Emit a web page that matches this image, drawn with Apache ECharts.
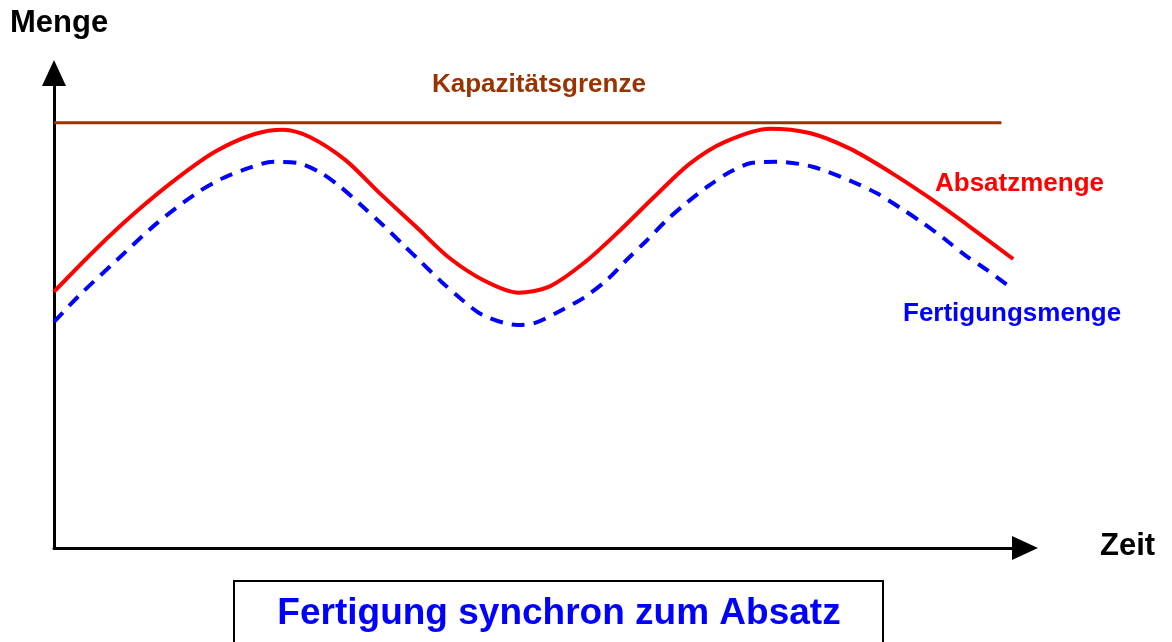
<!DOCTYPE html>
<html>
<head>
<meta charset="utf-8">
<script src="https://cdn.jsdelivr.net/npm/echarts@6/dist/echarts.min.js"></script>
<style>
html,body{margin:0;padding:0;background:#fff;}
#chart{width:1172px;height:642px;}
</style>
</head>
<body>
<div id="chart"></div>
<script>
// Time (x) and quantity (y) values, abstract units
const absatzX = [0, 4.2, 8.2, 12.3, 16.4, 20.4, 23.3, 26.0, 29.6, 33.1, 36.7, 40.2, 43.8, 47.2, 50.4, 54.0, 57.5, 61.1, 64.6, 68.2, 72.8, 76.8, 80.9, 85.0, 89.0, 93.1, 97.5];
const absatzY = [52.5, 61.1, 68.6, 75.4, 81.2, 84.8, 85.7, 84.2, 79.5, 72.7, 66.0, 59.4, 54.7, 52.3, 53.6, 58.6, 65.0, 72.1, 78.7, 83.2, 85.9, 85.0, 81.8, 77.0, 71.7, 65.8, 59.2];
const fertigungX = [0, 2.6, 6.4, 10.5, 14.5, 17.2, 19.9, 22.3, 24.7, 27.0, 29.1, 31.4, 33.4, 35.5, 37.4, 39.4, 41.5, 43.6, 47.1, 48.9, 51.1, 53.8, 56.2, 58.2, 60.3, 62.3, 64.3, 66.4, 68.7, 71.0, 73.5, 77.1, 81.2, 83.6, 86.0, 88.3, 90.4, 92.6, 94.8, 96.9];
const fertigungY = [46.3, 51.8, 59.0, 66.6, 72.7, 75.8, 77.9, 79.1, 78.9, 77.0, 74.0, 69.9, 66.2, 62.1, 58.4, 54.5, 50.8, 47.7, 45.7, 46.1, 48.2, 51.2, 54.9, 59.0, 63.1, 67.2, 70.7, 74.0, 77.0, 78.9, 79.1, 78.1, 75.0, 72.7, 69.7, 66.6, 63.5, 60.0, 57.0, 53.9];
const kapazitaetX = [0, 96.3];
const kapazitaetY = [87.1, 87.1];
const labels = {
  yName: 'Menge', xName: 'Zeit',
  kap: 'Kapazitätsgrenze', absatz: 'Absatzmenge', fertigung: 'Fertigungsmenge',
  title: 'Fertigung synchron zum Absatz'
};

const zip = (xs, ys) => xs.map((x, i) => [x, ys[i]]);
const font = '"Liberation Sans", Arial, sans-serif';

const chart = echarts.init(document.getElementById('chart'));
chart.setOption({
  backgroundColor: '#fff',
  animation: false,
  grid: { left: 54, right: 147, top: 73, bottom: 94 },
  xAxis: {
    type: 'value', min: 0, max: 98.7,
    axisLine: { show: true, symbol: ['none', 'triangle'], symbolSize: [24, 26], lineStyle: { color: '#000', width: 3 } },
    axisTick: { show: false }, axisLabel: { show: false }, splitLine: { show: false }
  },
  yAxis: {
    type: 'value', min: 0, max: 97.3,
    axisLine: { show: true, symbol: ['none', 'triangle'], symbolSize: [24, 26], lineStyle: { color: '#000', width: 3 } },
    axisTick: { show: false }, axisLabel: { show: false }, splitLine: { show: false }
  },
  series: [
    { type: 'line', name: labels.kap, data: zip(kapazitaetX, kapazitaetY), showSymbol: false,
      lineStyle: { color: '#993300', width: 3 }, z: 2 },
    { type: 'line', name: labels.fertigung, data: zip(fertigungX, fertigungY), smooth: 0.3, showSymbol: false,
      lineStyle: { color: '#0000ff', width: 4, type: [13, 9] }, z: 3 },
    { type: 'line', name: labels.absatz, data: zip(absatzX, absatzY), smooth: 0.3, showSymbol: false,
      lineStyle: { color: '#ff0000', width: 4 }, z: 4 }
  ],
  graphic: [
    { type: 'text', x: 10, y: 23, style: { text: labels.yName, font: 'bold 31px ' + font, fill: '#000', verticalAlign: 'middle' } },
    { type: 'text', x: 1100, y: 546, style: { text: labels.xName, font: 'bold 31px ' + font, fill: '#000', verticalAlign: 'middle' } },
    { type: 'text', x: 432, y: 85, style: { text: labels.kap, font: 'bold 26px ' + font, fill: '#993300', verticalAlign: 'middle' } },
    { type: 'text', x: 935, y: 184, style: { text: labels.absatz, font: 'bold 26px ' + font, fill: '#ff0000', verticalAlign: 'middle' } },
    { type: 'text', x: 903, y: 314, style: { text: labels.fertigung, font: 'bold 26px ' + font, fill: '#0000ff', verticalAlign: 'middle' } },
    { type: 'rect', shape: { x: 234, y: 581, width: 649, height: 70 }, style: { fill: '#fff', stroke: '#000', lineWidth: 2 } },
    { type: 'text', x: 559, y: 614, style: { text: labels.title, font: 'bold 37px ' + font, fill: '#0000ff', align: 'center', verticalAlign: 'middle' } }
  ]
});
</script>
</body>
</html>
